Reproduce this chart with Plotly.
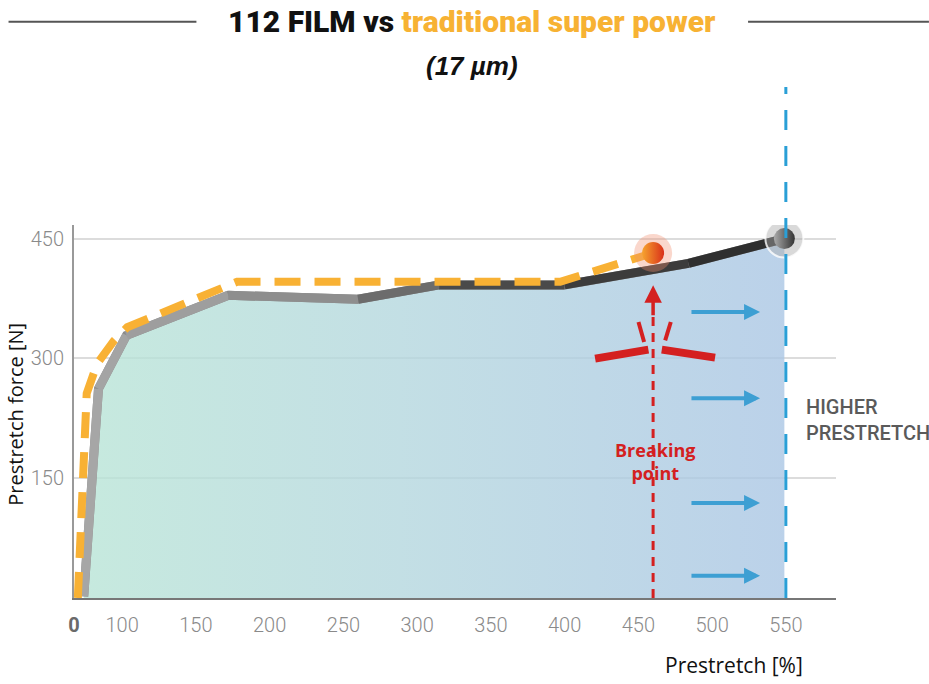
import plotly.graph_objects as go

# ---------------- data (chart units) ----------------
# x tick positions / labels (the first tick sits at the axis origin, labelled "0")
x_tickvals = [67.4, 100, 150, 200, 250, 300, 350, 400, 450, 500, 550]
x_ticktext = ["<b><span style='color:#6a6a6a'>0</span></b>", "100", "150", "200", "250",
              "300", "350", "400", "450", "500", "550"]
y_tickvals = [150, 300, 450]
y_ticktext = ["150", "300", "450"]

# 112 FILM (grey -> dark line)
film_x = [74, 84, 103, 172, 260, 315, 400, 484, 549]
film_y = [2, 262, 329, 379, 374, 392, 392, 419, 450]
film_seg_colors = ["#a6a6a6", "#a4a4a4", "#9e9e9e", "#8e8e8e", "#6c6c6c",
                   "#4a4a4a", "#3c3c3c", "#2f2f2f"]

# traditional super power (orange dashed)
trad_x = [70, 75.2, 76, 83, 94.4, 103.5, 144, 178, 397, 439, 460]
trad_y = [0, 222, 256, 293, 322, 339, 370, 396, 396, 420, 432]

higher_x = 550
blue_arrow_y = [358, 250, 119, 28]

# ---------------- geometry helpers (layout only) ----------------
W, H = 929, 684
L, R, T, B = 73.5, 93, 225, 86.3
PW, PH = W - L - R, H - T - B


def px(xp):
    return (xp - L) / PW


def py(yp):
    return (H - B - yp) / PH


fig = go.Figure()

# gradient fill under the 112 FILM curve
fig.add_trace(go.Scatter(
    x=film_x, y=film_y, mode="lines", line=dict(width=0),
    fill="tozeroy",
    fillgradient=dict(type="horizontal",
                      colorscale=[[0, "rgba(184,228,214,0.8)"],
                                  [0.45, "rgba(180,215,222,0.8)"],
                                  [1, "rgba(170,198,228,0.8)"]]),
    hoverinfo="skip", showlegend=False))

# base grey line then shaded segments
fig.add_trace(go.Scatter(x=film_x, y=film_y, mode="lines",
                         line=dict(color="#8a8a8a", width=9),
                         showlegend=False, hoverinfo="skip"))
for i, c in enumerate(film_seg_colors):
    fig.add_trace(go.Scatter(x=film_x[i:i + 2], y=film_y[i:i + 2], mode="lines",
                             line=dict(color=c, width=9),
                             showlegend=False, hoverinfo="skip"))

# orange dashed line
fig.add_trace(go.Scatter(x=trad_x, y=trad_y, mode="lines",
                         line=dict(color="#f8b134", width=8, dash="26px,14px"),
                         showlegend=False, hoverinfo="skip"))

# glowing end markers
fig.add_trace(go.Scatter(x=[trad_x[-1]], y=[trad_y[-1]], mode="markers",
                         marker=dict(size=38, color="rgba(240,140,110,0.35)",
                                     line=dict(width=0)),
                         showlegend=False, hoverinfo="skip"))
fig.add_trace(go.Scatter(x=[trad_x[-1]], y=[trad_y[-1]], mode="markers",
                         marker=dict(size=22, color="#f6a32e",
                                     gradient=dict(type="horizontal", color="#d9301a"),
                                     line=dict(width=0)),
                         showlegend=False, hoverinfo="skip"))
fig.add_trace(go.Scatter(x=[film_x[-1]], y=[film_y[-1]], mode="markers",
                         marker=dict(size=38, color="rgba(170,170,170,0.45)",
                                     line=dict(width=2, color="rgba(255,255,255,0.8)")),
                         showlegend=False, hoverinfo="skip"))
fig.add_trace(go.Scatter(x=[film_x[-1]], y=[film_y[-1]], mode="markers",
                         marker=dict(size=21, color="#aaaaaa",
                                     gradient=dict(type="horizontal", color="#333333"),
                                     line=dict(width=0)),
                         showlegend=False, hoverinfo="skip"))

shapes = []
# title side rules
shapes.append(dict(type="line", xref="paper", yref="paper", x0=px(8), x1=px(196),
                   y0=py(22), y1=py(22), line=dict(color="#555555", width=2)))
shapes.append(dict(type="line", xref="paper", yref="paper", x0=px(748), x1=px(929),
                   y0=py(22), y1=py(22), line=dict(color="#555555", width=2)))
# blue "higher prestretch" dashed line
shapes.append(dict(type="line", xref="x", yref="paper", x0=higher_x, x1=higher_x,
                   y0=0, y1=py(87), line=dict(color="#2a9fd6", width=3, dash="20px,16px")))
# red breaking point dashed line
bx = trad_x[-1]
red = "#d42020"
shapes.append(dict(type="line", xref="x", yref="y", x0=bx, x1=bx, y0=0, y1=352,
                   line=dict(color=red, width=3, dash="9px,7px")))
# red burst marks
shapes.append(dict(type="line", xref="x", yref="y", x0=420.7, y0=299.7, x1=456.8, y1=311,
                   line=dict(color=red, width=8)))
shapes.append(dict(type="line", xref="x", yref="y", x0=465.9, y0=311, x1=502, y1=301,
                   line=dict(color=red, width=8)))
shapes.append(dict(type="line", xref="x", yref="y", x0=450.1, y0=345.6, x1=453.9, y1=320.5,
                   line=dict(color=red, width=4)))
shapes.append(dict(type="line", xref="x", yref="y", x0=472, y0=345.6, x1=468.2, y1=322.6,
                   line=dict(color=red, width=4)))

annotations = []
annotations.append(dict(
    xref="paper", yref="paper", x=px(472), y=py(22), showarrow=False,
    text="112 FILM vs <span style='color:#f7b233'>traditional super power</span>",
    font=dict(family="Roboto, sans-serif", size=30, weight=900, color="#111111"),
    xanchor="center", yanchor="middle"))
annotations.append(dict(
    xref="paper", yref="paper", x=px(472), y=py(66), showarrow=False,
    text="<b><i>(17 µm)</i></b>",
    font=dict(family="Liberation Sans, Arial, sans-serif", size=26, color="#111111"),
    xanchor="center", yanchor="middle"))
annotations.append(dict(
    xref="paper", yref="paper", x=px(15), y=py(414), showarrow=False,
    text="Prestretch force [N]", textangle=-90,
    font=dict(family="Open Sans, sans-serif", size=20, color="#111111"),
    xanchor="center", yanchor="middle"))
annotations.append(dict(
    xref="paper", yref="paper", x=px(734), y=py(665), showarrow=False,
    text="Prestretch [%]",
    font=dict(family="Open Sans, sans-serif", size=21, color="#111111"),
    xanchor="center", yanchor="middle"))
annotations.append(dict(
    xref="paper", yref="paper", x=px(804), y=py(420), showarrow=False,
    text="HIGHER<br>PRESTRETCH", align="left",
    font=dict(family="Roboto, sans-serif", size=20, weight=500, color="#5a5a5a"),
    xanchor="left", yanchor="middle"))
annotations.append(dict(
    xref="paper", yref="paper", x=px(655), y=py(461), showarrow=False,
    text="<b>Breaking<br>point</b>",
    font=dict(family="Open Sans, sans-serif", size=18, color=red),
    xanchor="center", yanchor="middle"))
# red arrow head
annotations.append(dict(x=bx, y=391.5, xref="x", yref="y", ax=bx, ay=352,
                        axref="x", ayref="y", text="",
                        showarrow=True, arrowhead=2, arrowsize=1, arrowwidth=3.5,
                        arrowcolor=red))
# blue arrows
for yv in blue_arrow_y:
    annotations.append(dict(x=532.5, y=yv, xref="x", yref="y", ax=485, ay=yv,
                            axref="x", ayref="y", text="", showarrow=True,
                            arrowhead=2, arrowsize=0.8, arrowwidth=4,
                            arrowcolor="#3d9fd3"))

tickfont = dict(family="Roboto, sans-serif", size=20, weight=300, color="#8a8a8a")

fig.update_layout(
    width=W, height=H, autosize=False,
    margin=dict(l=L, r=R, t=T, b=B, pad=0),
    paper_bgcolor="white", plot_bgcolor="white",
    showlegend=False,
    shapes=shapes, annotations=annotations,
    xaxis=dict(range=[67.4, 584], tickmode="array", tickvals=x_tickvals,
               ticktext=x_ticktext, showgrid=False, zeroline=False,
               showline=True, linecolor="#777777", linewidth=2,
               ticks="", tickfont=tickfont, ticklabelstandoff=8),
    yaxis=dict(range=[0, 467], tickmode="array", tickvals=y_tickvals,
               ticktext=y_ticktext, showgrid=True, gridcolor="#dcdcdc", gridwidth=2,
               zeroline=False, showline=True, linecolor="#999999", linewidth=2,
               ticks="", tickfont=tickfont, ticklabelstandoff=4),
)

fig.write_html("out.html", config={"displayModeBar": False},
               post_script="document.body.style.margin='0';")
